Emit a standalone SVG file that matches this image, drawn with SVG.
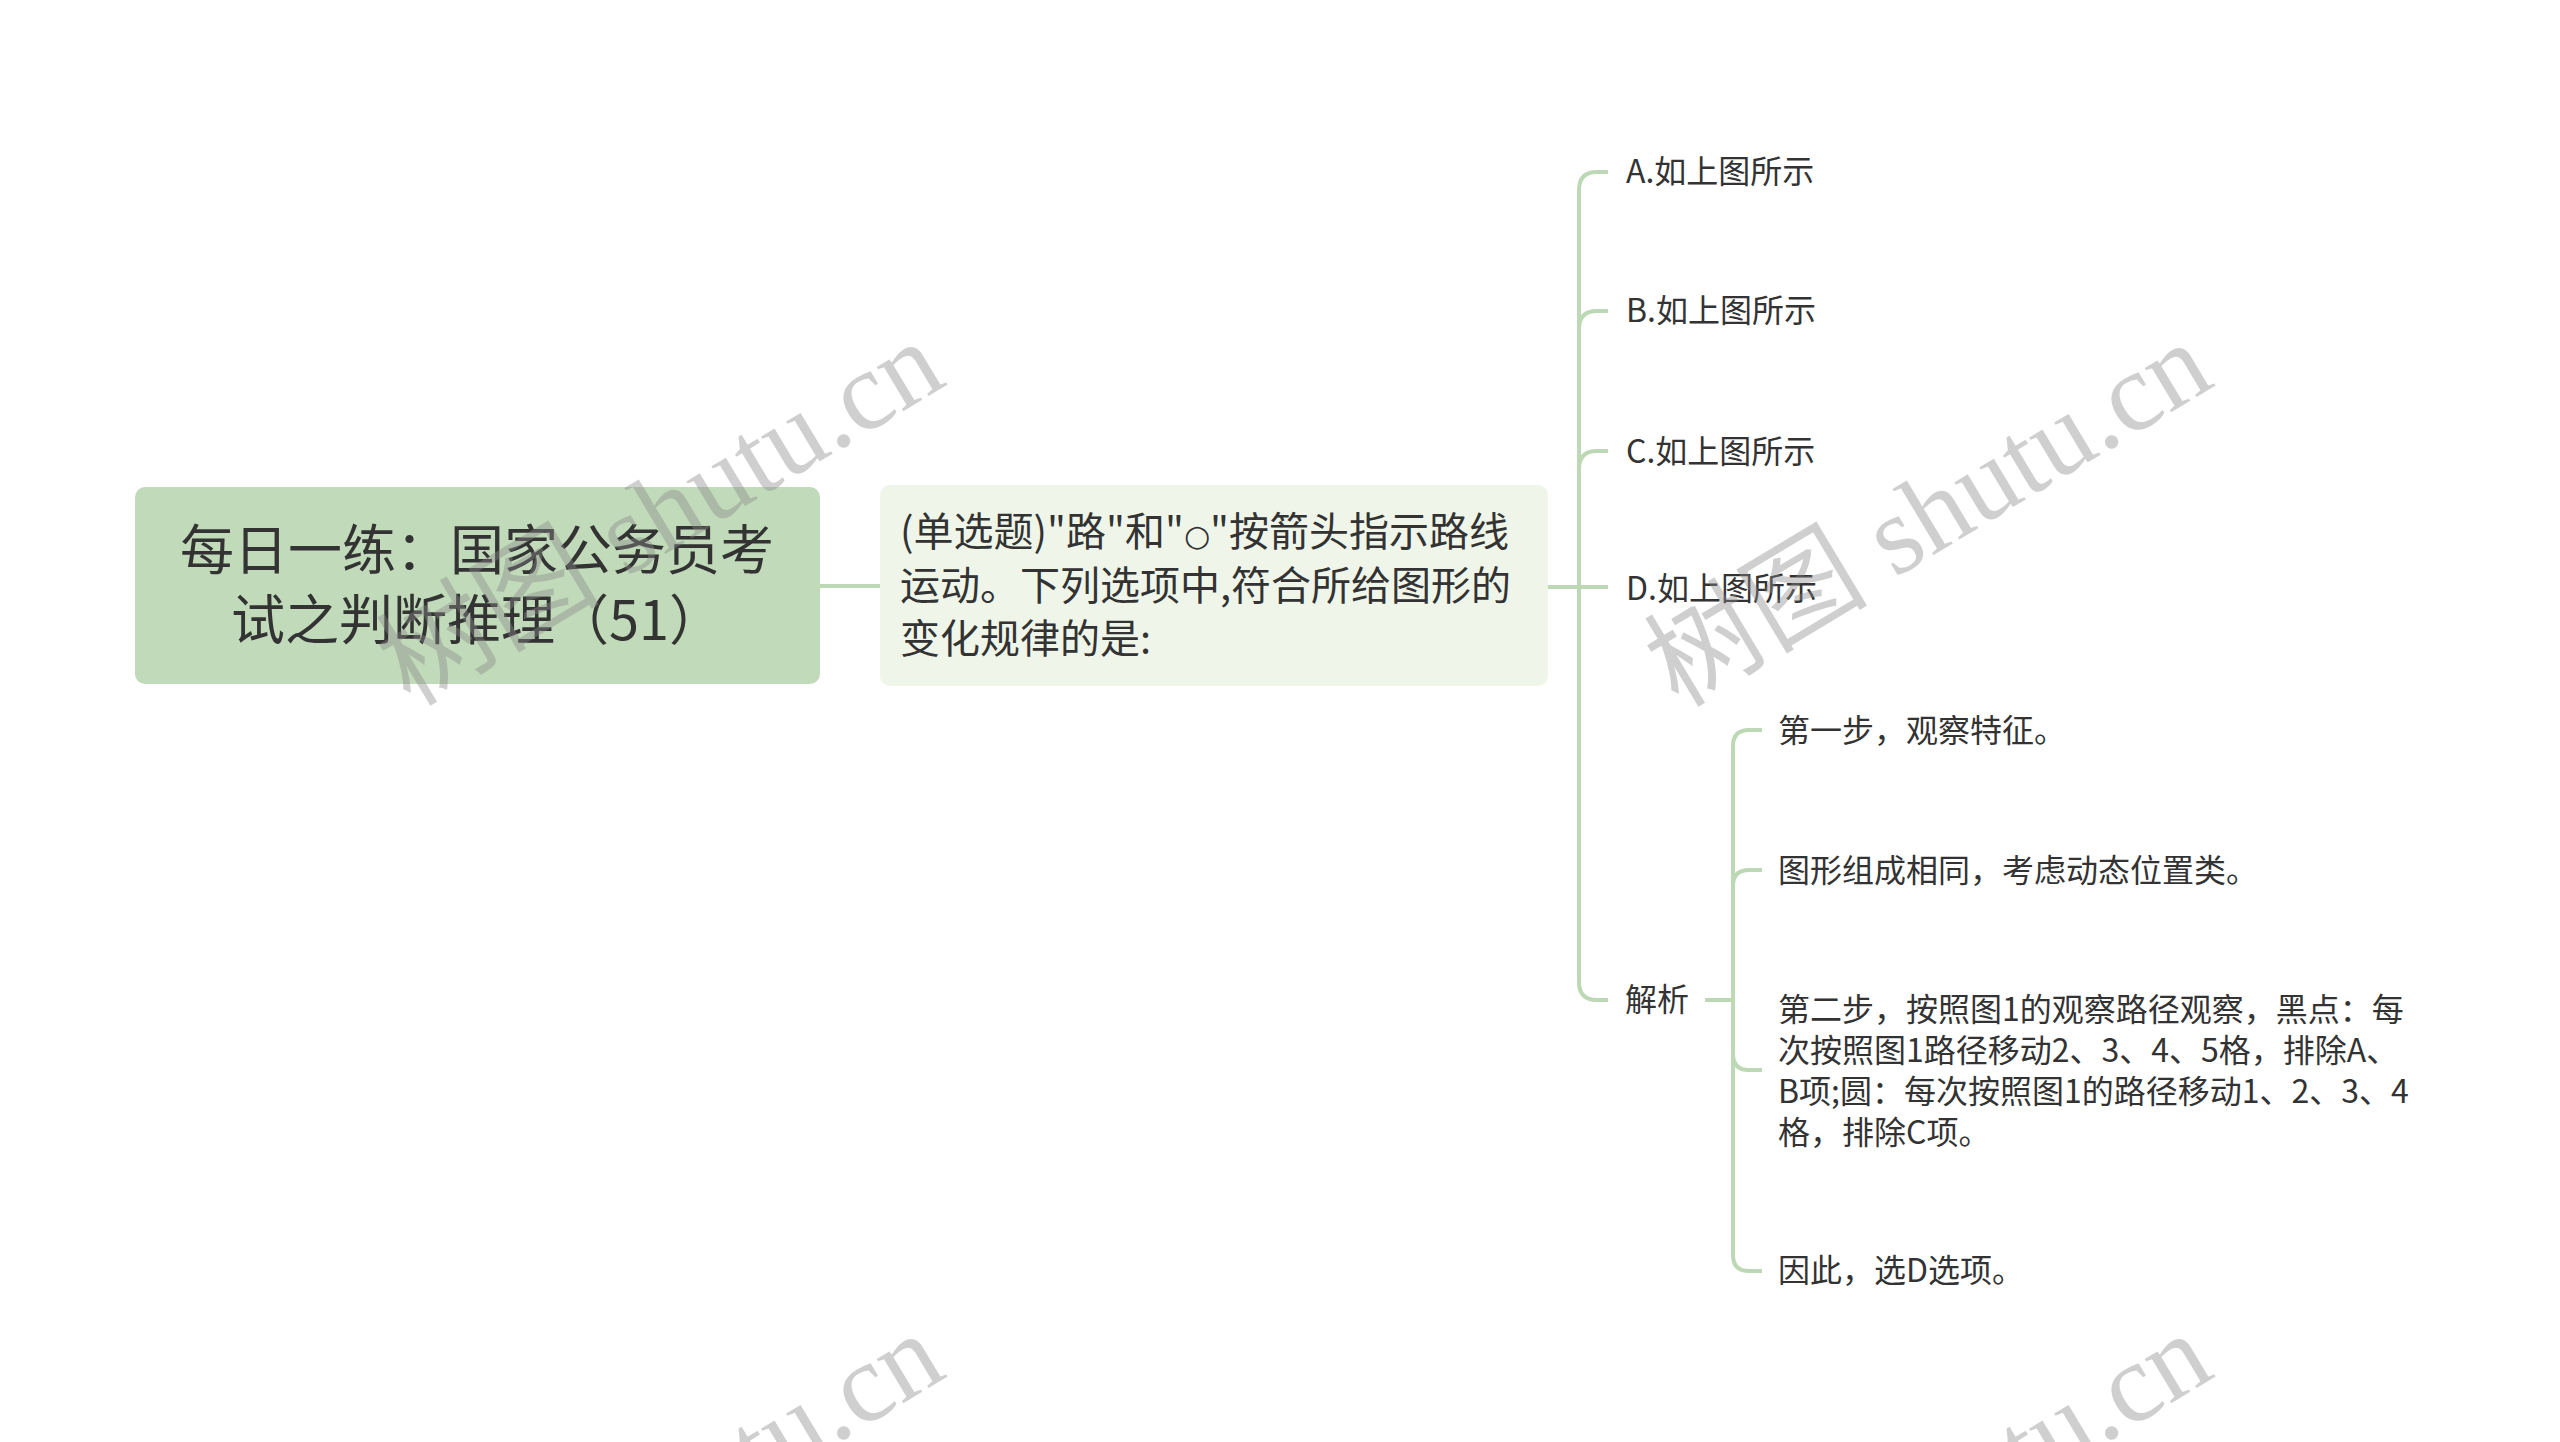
<svg xmlns="http://www.w3.org/2000/svg" width="2560" height="1442" viewBox="0 0 2560 1442">
<style>
.t{font-family:"Noto Sans CJK SC","Liberation Sans",sans-serif;fill:#333333}
.root{font-size:54px}
.mid{font-size:40px}
.leaf{font-size:32px}
.ln{fill:none;stroke:#bdd8b5;stroke-width:4;stroke-linecap:butt}
.wm{font-family:"Liberation Serif","Noto Sans CJK SC",serif;font-size:112px;fill:#8a8a8a;opacity:0.4}
</style>
<rect width="2560" height="1442" fill="#ffffff"/>
<g id="connectors">
<path class="ln" d="M820,586 H880"/>
<path class="ln" d="M1548,587 H1608"/>
<path class="ln" d="M1579,587 V190 Q1579,172 1597,172 H1608"/>
<path class="ln" d="M1579,587 V329 Q1579,311 1597,311 H1608"/>
<path class="ln" d="M1579,587 V469 Q1579,451 1597,451 H1608"/>
<path class="ln" d="M1579,587 V982 Q1579,1000 1597,1000 H1608"/>
<path class="ln" d="M1705,1000 H1733"/>
<path class="ln" d="M1733,1000 V746 Q1733,730 1749,730 H1762"/>
<path class="ln" d="M1733,1000 V886 Q1733,870 1749,870 H1762"/>
<path class="ln" d="M1733,1000 V1054 Q1733,1070 1749,1070 H1762"/>
<path class="ln" d="M1733,1000 V1255 Q1733,1271 1749,1271 H1762"/>
</g>
<g id="root">
<rect x="135" y="487" width="685" height="197" rx="10" fill="#c1dab9"/>
<text class="t root" x="477" y="570" text-anchor="middle">每日一练：国家公务员考</text>
<text class="t root" x="477" y="640" text-anchor="middle">试之判断推理（51）</text>
</g>
<g id="question">
<rect x="880" y="485" width="668" height="201" rx="10" fill="#eff6e9"/>
<text class="t mid" x="900" y="546">(单选题)"路"和"<tspan font-family="DejaVu Sans" font-size="30">○</tspan>"按箭头指示路线</text>
<text class="t mid" x="900" y="600">运动。下列选项中,符合所给图形的</text>
<text class="t mid" x="900" y="653">变化规律的是:</text>
</g>
<g id="optA"><text class="t leaf" x="1626" y="183">A.如上图所示</text></g>
<g id="optB"><text class="t leaf" x="1626" y="322">B.如上图所示</text></g>
<g id="optC"><text class="t leaf" x="1626" y="463">C.如上图所示</text></g>
<g id="optD"><text class="t leaf" x="1626" y="600">D.如上图所示</text></g>
<g id="analysis"><text class="t leaf" x="1625" y="1011">解析</text></g>
<g id="step1"><text class="t leaf" x="1778" y="742">第一步，观察特征。</text></g>
<g id="step1b"><text class="t leaf" x="1778" y="882">图形组成相同，考虑动态位置类。</text></g>
<g id="step2">
<text class="t leaf" x="1778" y="1021">第二步，按照图1的观察路径观察，黑点：每</text>
<text class="t leaf" x="1778" y="1062">次按照图1路径移动2、3、4、5格，排除A、</text>
<text class="t leaf" x="1778" y="1103">B项;圆：每次按照图1的路径移动1、2、3、4</text>
<text class="t leaf" x="1778" y="1144">格，排除C项。</text>
</g>
<g id="conclusion"><text class="t leaf" x="1778" y="1282">因此，选D选项。</text></g>
<g id="watermark">
<text class="wm" x="660" y="513" text-anchor="middle" dominant-baseline="central" transform="rotate(-31 660 513)">树图 shutu.cn</text>
<text class="wm" x="1928" y="514" text-anchor="middle" dominant-baseline="central" transform="rotate(-31 1928 514)">树图 shutu.cn</text>
<text class="wm" x="660" y="1505" text-anchor="middle" dominant-baseline="central" transform="rotate(-31 660 1505)">树图 shutu.cn</text>
<text class="wm" x="1928" y="1505" text-anchor="middle" dominant-baseline="central" transform="rotate(-31 1928 1505)">树图 shutu.cn</text>
</g>
</svg>
